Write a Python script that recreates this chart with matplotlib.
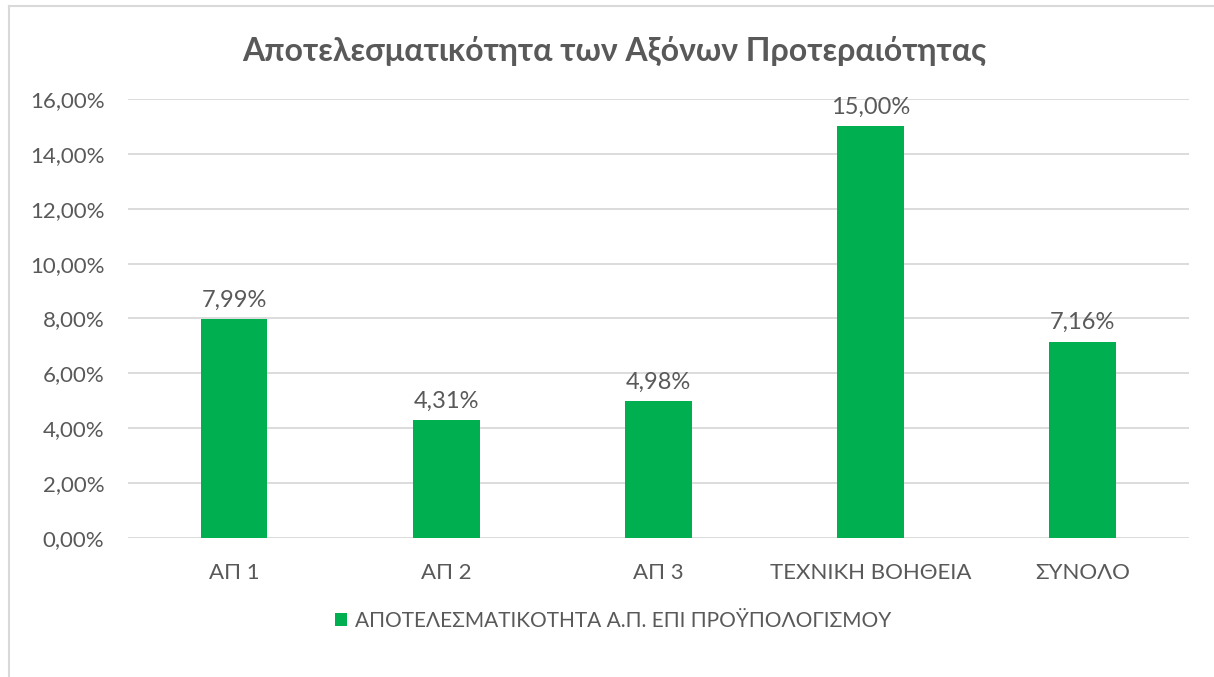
import matplotlib.pyplot as plt
from matplotlib.lines import Line2D
from matplotlib.patches import Patch
from matplotlib.ticker import FuncFormatter

categories = ['ΑΠ 1', 'ΑΠ 2', 'ΑΠ 3', 'ΤΕΧΝΙΚΗ ΒΟΗΘΕΙΑ', 'ΣΥΝΟΛΟ']
values = [7.99, 4.31, 4.98, 15.00, 7.16]
series_name = 'ΑΠΟΤΕΛΕΣΜΑΤΙΚΟΤΗΤΑ Α.Π. ΕΠΙ ΠΡΟΫΠΟΛΟΓΙΣΜΟΥ'
title = 'Αποτελεσματικότητα των Αξόνων Προτεραιότητας'

GREEN = '#00B050'
TEXT = '#595959'
GRID = '#D9D9D9'

plt.rcParams['font.family'] = ['Lato', 'DejaVu Sans']


def pct(v, pos=None):
    return f'{v:.2f}%'.replace('.', ',')


fig = plt.figure(figsize=(12.14, 6.77), dpi=100)
ax = fig.add_axes([0.1054, 0.2053, 0.874, 0.6485])

x = range(len(categories))
bars = ax.bar(x, values, width=0.315, color=GREEN, zorder=3)
for b, v in zip(bars, values):
    ax.text(b.get_x() + b.get_width() / 2, v + 0.3, pct(v),
            ha='center', va='bottom', fontsize=17, color=TEXT)

ax.set_xlim(-0.5, len(categories) - 0.5)
ax.set_ylim(0, 16)
ax.set_yticks(range(0, 17, 2))
ax.yaxis.set_major_formatter(FuncFormatter(pct))
ax.set_xticks(list(x))
ax.set_xticklabels(categories)
ax.tick_params(axis='y', length=0, labelsize=16, colors=TEXT, pad=17)
ax.tick_params(axis='x', length=0, labelsize=16, colors=TEXT, pad=18)
ax.grid(axis='y', color=GRID, linewidth=1.3, zorder=0)
for s in ax.spines.values():
    s.set_visible(False)

fig.text(0.506, 0.925, title, ha='center', va='center',
         fontsize=23, fontweight='bold', color=TEXT)

handle = Patch(facecolor=GREEN, edgecolor='none')
fig.legend([handle], [series_name], loc='center', bbox_to_anchor=(0.505, 0.083),
           frameon=False, fontsize=15, labelcolor=TEXT,
           handlelength=0.6, handleheight=0.6, handletextpad=0.4)

# chart border (top and left visible)
fig.add_artist(Line2D([0.0074, 0.0074], [0, 0.991], color=GRID, linewidth=1.5,
                      transform=fig.transFigure))
fig.add_artist(Line2D([0.0074, 1], [0.991, 0.991], color=GRID, linewidth=1.5,
                      transform=fig.transFigure))

fig.savefig('out.png', dpi=100, facecolor='white')
